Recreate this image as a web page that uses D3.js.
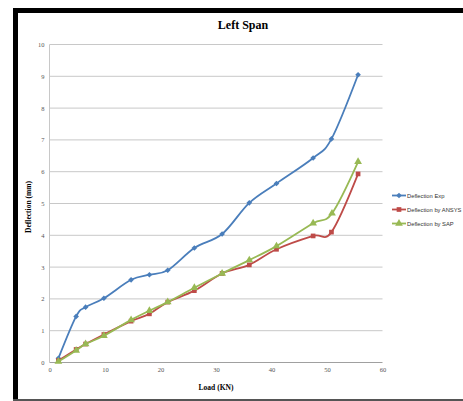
<!DOCTYPE html>
<html><head><meta charset="utf-8">
<script src="https://cdn.jsdelivr.net/npm/d3@7"></script>
<style>body{margin:0;background:#fff;}svg{display:block;}</style>
</head><body>
<svg id="c" width="463" height="401"></svg>
<script>
const title = "Left Span";
const xLabel = "Load (KN)";
const yLabel = "Deflection (mm)";
const xTicks = [0,10,20,30,40,50,60];
const yTicks = [0,1,2,3,4,5,6,7,8,9,10];
const seriesNames = ["Deflection Exp","Deflection by ANSYS","Deflection by SAP"];
const expX = [1.6,4.8,6.5,9.8,14.7,18.0,21.3,26.1,31.1,36.0,40.9,47.5,50.8,55.6];
const expY = [0.13,1.45,1.74,2.02,2.6,2.76,2.9,3.6,4.04,5.02,5.63,6.43,7.03,9.05];
const ansysX = [1.6,4.8,6.5,9.8,14.7,18.0,21.3,26.1,31.1,36.0,40.9,47.5,50.8,55.6];
const ansysY = [0.06,0.41,0.58,0.88,1.3,1.53,1.9,2.26,2.8,3.07,3.56,3.98,4.1,5.93];
const sapX = [1.6,4.8,6.5,9.8,14.7,18.0,21.3,26.1,31.1,36.0,40.9,47.5,50.9,55.6];
const sapY = [0.03,0.38,0.58,0.84,1.34,1.63,1.9,2.35,2.8,3.22,3.66,4.38,4.69,6.31];
const colors = ["#4A7EBB","#BE4B48","#98B954"];

const svg = d3.select("#c");
// frame
svg.append("rect").attr("x",13).attr("y",8).attr("width",450).attr("height",5).attr("fill","#000");
svg.append("rect").attr("x",13).attr("y",8).attr("width",5).attr("height",392).attr("fill","#000");
svg.append("rect").attr("x",13).attr("y",399).attr("width",450).attr("height",2).attr("fill","#555");

const x = d3.scaleLinear().domain([0,60]).range([49.5,382.5]);
const y = d3.scaleLinear().domain([0,10]).range([362.5,44.5]);

// gridlines
svg.append("g").selectAll("line").data(yTicks).join("line")
  .attr("x1",x(0)).attr("x2",x(60)).attr("y1",d=>y(d)).attr("y2",d=>y(d))
  .attr("stroke",d=>d===0?"#a0a0a0":"#c8c8c8").attr("stroke-width",1);
svg.append("line").attr("x1",x(0)).attr("x2",x(0)).attr("y1",y(0)).attr("y2",y(10))
  .attr("stroke","#c8c8c8");

// axes labels
const yAxis = d3.axisLeft(y).tickValues(yTicks).tickSize(0).tickPadding(5);
const gy = svg.append("g").attr("transform",`translate(${x(0)},0)`).call(yAxis);
gy.select(".domain").remove();
gy.selectAll("text").attr("font-family","Liberation Serif").attr("font-size",6.5).attr("fill","#555");
const xAxis = d3.axisBottom(x).tickValues(xTicks).tickSize(0).tickPadding(5);
const gx = svg.append("g").attr("transform",`translate(0,${y(0)})`).call(xAxis);
gx.select(".domain").remove();
gx.selectAll("text").attr("font-family","Liberation Serif").attr("font-size",6.5).attr("fill","#555");

// titles
svg.append("text").attr("x",243).attr("y",29).attr("text-anchor","middle")
  .attr("font-family","Liberation Serif").attr("font-weight","bold").attr("font-size",12).text(title);
svg.append("text").attr("x",216).attr("y",390).attr("text-anchor","middle")
  .attr("font-family","Liberation Serif").attr("font-weight","bold").attr("font-size",7.5).text(xLabel);
svg.append("text").attr("transform","translate(31,207) rotate(-90)").attr("text-anchor","middle")
  .attr("font-family","Liberation Serif").attr("font-weight","bold").attr("font-size",7.5).text(yLabel);

const data = [
  expX.map((v,i)=>[v,expY[i]]),
  ansysX.map((v,i)=>[v,ansysY[i]]),
  sapX.map((v,i)=>[v,sapY[i]])
];
const line = d3.line().x(d=>x(d[0])).y(d=>y(d[1])).curve(d3.curveCardinal.tension(0));
const symbols = [d3.symbolSquare, d3.symbolSquare, d3.symbolTriangle];
const sizes = [16, 22, 26];
const rots = [45, 0, 0];

function drawSeries(i){
  svg.append("path").attr("d",line(data[i])).attr("fill","none")
    .attr("stroke",colors[i]).attr("stroke-width",1.8);
}
function drawMarkers(i){
  svg.append("g").selectAll("path").data(data[i]).join("path")
    .attr("transform",d=>`translate(${x(d[0])},${y(d[1])}) rotate(${rots[i]})`)
    .attr("d",d3.symbol().type(symbols[i]).size(sizes[i]))
    .attr("fill",colors[i]);
}
[0,1,2].forEach(i=>{drawSeries(i);drawMarkers(i);});

// legend
const lg = svg.append("g");
seriesNames.forEach((n,i)=>{
  const ly = 195.5 + i*14;
  lg.append("line").attr("x1",392).attr("x2",406).attr("y1",ly).attr("y2",ly)
    .attr("stroke",colors[i]).attr("stroke-width",1.8);
  lg.append("path").attr("transform",`translate(399,${ly}) rotate(${rots[i]})`)
    .attr("d",d3.symbol().type(symbols[i]).size(sizes[i])).attr("fill",colors[i]);
  lg.append("text").attr("x",407).attr("y",ly+2).attr("font-family","Liberation Sans Narrow, Liberation Sans")
    .attr("font-size",5.8).attr("fill","#333").text(n);
});
</script>
</body></html>
